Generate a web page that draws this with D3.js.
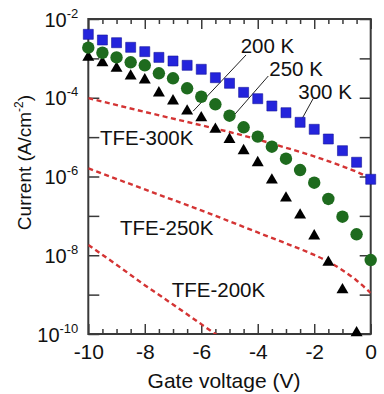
<!DOCTYPE html>
<html>
<head>
<meta charset="utf-8">
<script src="https://cdn.jsdelivr.net/npm/d3@7"></script>
<style>
  body { margin: 0; background: #fff; }
  svg text { font-family: "Liberation Sans", Arial, Helvetica, sans-serif; fill: #111; }
</style>
</head>
<body>
<svg id="chart" width="384" height="394"></svg>
<script>
// Gate voltage (V) for the measured points
const voltage = [-10, -9.5, -9, -8.5, -8, -7.5, -7, -6.5, -6, -5.5, -5, -4.5, -4, -3.5, -3, -2.5, -2, -1.5, -1, -0.5, 0];

// Measured current density (A/cm^2)
const current300K = [4.08e-3, 2.93e-3, 2.50e-3, 1.91e-3, 1.48e-3, 1.06e-3, 8.57e-4, 6.67e-4, 5.28e-4, 3.23e-4, 2.33e-4,
                     1.37e-4, 9.46e-5, 6.17e-5, 4.17e-5, 2.38e-5, 1.58e-5, 8.95e-6, 4.52e-6, 2.30e-6, 8.5e-7];
const current250K = [1.87e-3, 1.39e-3, 1.06e-3, 7.94e-4, 6.67e-4, 4.18e-4, 3.12e-4, 1.74e-4, 1.06e-4, 6.82e-5, 3.50e-5,
                     1.78e-5, 1.03e-5, 5.72e-6, 2.83e-6, 1.46e-6, 6.95e-7, 2.69e-7, 9.53e-8, 3.40e-8, 7.57e-9];
const current200K = [1.06e-3, 7.76e-4, 5.60e-4, 3.56e-4, 2.82e-4, 1.32e-4, 8.3e-5, 4.57e-5, 3.09e-5, 1.58e-5,
                     8.7e-6, 4.52e-6, 2.24e-6, 8.1e-7, 2.82e-7, 1.05e-7, 3.09e-8, 6.6e-9, 1.32e-9, 1.07e-10];

// Thermionic-field emission model curves
const tfeVoltage300 = [-10, -8, -6, -5, -4, -3, -2, -1, -0.5, 0];
const tfe300K = [9.8e-5, 4.37e-5, 2.0e-5, 1.35e-5, 8.7e-6, 5.37e-6, 3.24e-6, 1.82e-6, 1.32e-6, 8.9e-7];
const tfeVoltage250 = [-10, -8, -6, -4, -3, -2, -1.5, -1, -0.5, 0];
const tfe250K = [1.62e-6, 4.68e-7, 1.38e-7, 3.80e-8, 2.0e-8, 1.02e-8, 6.9e-9, 4.17e-9, 2.29e-9, 1.10e-9];
const tfeVoltage200 = [-10, -9, -8, -7, -6, -5];
const tfe200K = [1.82e-8, 5.75e-9, 1.74e-9, 5.62e-10, 1.78e-10, 5.6e-11];

// Axis ticks
const xMajorTicks = [-10, -8, -6, -4, -2, 0];
const xMinorTicks = [-9.5, -9, -8.5, -7.5, -7, -6.5, -5.5, -5, -4.5, -3.5, -3, -2.5, -1.5, -1, -0.5];
const yTicks = [1e-2, 1e-3, 1e-4, 1e-5, 1e-6, 1e-7, 1e-8, 1e-9, 1e-10];
const yLabelTicks = [1e-2, 1e-4, 1e-6, 1e-8, 1e-10];
const yLabelExponents = ["-2", "-4", "-6", "-8", "-10"];

const svg = d3.select("#chart");
const plotLeft = 88.3, plotRight = 370.7, plotTop = 19, plotBottom = 334;
const axisColor = "#3a3a3a";

const x = d3.scaleLinear().domain([-10, 0]).range([plotLeft, plotRight]);
const y = d3.scaleLog().domain([1e-10, 1e-2]).range([plotBottom, plotTop]);

svg.append("defs").append("clipPath").attr("id", "plotClip")
  .append("rect").attr("x", plotLeft).attr("y", plotTop)
  .attr("width", plotRight - plotLeft).attr("height", plotBottom - plotTop);

function styleAxis(g) {
  g.select(".domain").remove();
  g.selectAll(".tick line").attr("stroke", axisColor).attr("stroke-width", 1.5);
  g.selectAll(".tick text").attr("fill", "#111");
}

// Bottom axis: major ticks with labels, minor ticks without
const gBottom = svg.append("g").attr("transform", `translate(0,${plotBottom})`)
  .call(d3.axisBottom(x).tickValues(xMajorTicks).tickSizeInner(-10).tickSizeOuter(0).tickPadding(10)
        .tickFormat(d => d === 0 ? "0" : "-" + Math.abs(d)))
  .call(styleAxis);
gBottom.selectAll(".tick text").attr("font-size", 21);
svg.append("g").attr("transform", `translate(0,${plotBottom})`)
  .call(d3.axisBottom(x).tickValues(xMinorTicks).tickSizeInner(-5).tickSizeOuter(0).tickFormat(""))
  .call(styleAxis);

// Top axis (ticks only)
svg.append("g").attr("transform", `translate(0,${plotTop})`)
  .call(d3.axisTop(x).tickValues(xMajorTicks).tickSizeInner(-10).tickSizeOuter(0).tickFormat(""))
  .call(styleAxis);
svg.append("g").attr("transform", `translate(0,${plotTop})`)
  .call(d3.axisTop(x).tickValues(xMinorTicks).tickSizeInner(-5).tickSizeOuter(0).tickFormat(""))
  .call(styleAxis);

// Left axis: decade ticks, labels on even decades as 10^n
const gLeft = svg.append("g").attr("transform", `translate(${plotLeft},0)`)
  .call(d3.axisLeft(y).tickValues(yTicks).tickSizeInner(-11).tickSizeOuter(0).tickPadding(10).tickFormat(""))
  .call(styleAxis);
gLeft.selectAll(".tick").each(function(d) {
  const i = yLabelTicks.findIndex(v => Math.abs(Math.log10(v) - Math.log10(d)) < 1e-6);
  if (i < 0) return;
  const t = d3.select(this).select("text").attr("dy", null).attr("y", 7).attr("font-size", 20);
  t.append("tspan").text("10");
  t.append("tspan").attr("font-size", 13).attr("dy", -9).text(yLabelExponents[i]);
});

// Right axis (ticks only)
svg.append("g").attr("transform", `translate(${plotRight},0)`)
  .call(d3.axisRight(y).tickValues(yTicks).tickSizeInner(-11).tickSizeOuter(0).tickFormat(""))
  .call(styleAxis);

// Frame
svg.append("rect").attr("x", plotLeft).attr("y", plotTop)
  .attr("width", plotRight - plotLeft).attr("height", plotBottom - plotTop)
  .attr("fill", "none").attr("stroke", axisColor).attr("stroke-width", 2);

// Axis titles
svg.append("text").attr("x", 224).attr("y", 388).attr("text-anchor", "middle").attr("font-size", 21)
  .text("Gate voltage (V)");
const yTitle = svg.append("text").attr("transform", "translate(31,162.5) rotate(-90)")
  .attr("text-anchor", "middle").attr("font-size", 19);
yTitle.append("tspan").text("Current (A/cm");
yTitle.append("tspan").attr("font-size", 12).attr("dy", -8).text("-2");
yTitle.append("tspan").attr("dy", 8).text(")");

// TFE model curves (dashed)
const tfeLine = d3.line().x(d => x(d[0])).y(d => y(d[1])).curve(d3.curveMonotoneX);
const tfeCurves = [
  d3.zip(tfeVoltage300, tfe300K),
  d3.zip(tfeVoltage250, tfe250K),
  d3.zip(tfeVoltage200, tfe200K)
];
svg.append("g").attr("clip-path", "url(#plotClip)")
  .selectAll("path").data(tfeCurves).join("path")
  .attr("d", tfeLine)
  .attr("fill", "none").attr("stroke", "#d43434").attr("stroke-width", 2.4)
  .attr("stroke-dasharray", "5,3.5");

// Curve labels
const tfeLabels = [
  { text: "TFE-300K", x: 100, y: 144.5 },
  { text: "TFE-250K", x: 120, y: 235 },
  { text: "TFE-200K", x: 171.7, y: 296.7 }
];
svg.append("g").selectAll("text").data(tfeLabels).join("text")
  .attr("x", d => d.x).attr("y", d => d.y).attr("font-size", 20.5).text(d => d.text);

// Temperature labels with leader lines to a data point of each series
const tempLabels = [
  { text: "200 K", tx: 240.7, ty: 52.7, lx: 246, ly: 55, series: current200K, idx: 7, dx: 6, dy: 0 },
  { text: "250 K", tx: 269.3, ty: 76, lx: 268.3, ly: 76, series: current250K, idx: 10, dx: 5, dy: -1 },
  { text: "300 K", tx: 298.3, ty: 99, lx: 313.3, ly: 98.3, series: current300K, idx: 15, dx: 0, dy: 0 }
];
svg.append("g").selectAll("line").data(tempLabels).join("line")
  .attr("x1", d => d.lx).attr("y1", d => d.ly)
  .attr("x2", d => x(voltage[d.idx]) + d.dx).attr("y2", d => y(d.series[d.idx]) + d.dy)
  .attr("stroke", "#222").attr("stroke-width", 1);
svg.append("g").selectAll("text").data(tempLabels).join("text")
  .attr("x", d => d.tx).attr("y", d => d.ty).attr("font-size", 20.5).text(d => d.text);

// Measured points
const pts300 = d3.zip(voltage, current300K);
const pts250 = d3.zip(voltage, current250K);
const pts200 = d3.zip(voltage.slice(0, current200K.length), current200K);

svg.append("g").selectAll("path").data(pts200).join("path")
  .attr("transform", d => `translate(${x(d[0])},${y(d[1])})`)
  .attr("d", d3.symbol(d3.symbolTriangle, 62))
  .attr("fill", "#000");

svg.append("g").selectAll("circle").data(pts250).join("circle")
  .attr("cx", d => x(d[0])).attr("cy", d => y(d[1])).attr("r", 6.2)
  .attr("fill", "#1e6b1e");

svg.append("g").selectAll("path").data(pts300).join("path")
  .attr("transform", d => `translate(${x(d[0])},${y(d[1])})`)
  .attr("d", d3.symbol(d3.symbolSquare, 100))
  .attr("fill", "#2424dc").attr("stroke", "#15159a").attr("stroke-width", 0.6);
</script>
</body>
</html>
